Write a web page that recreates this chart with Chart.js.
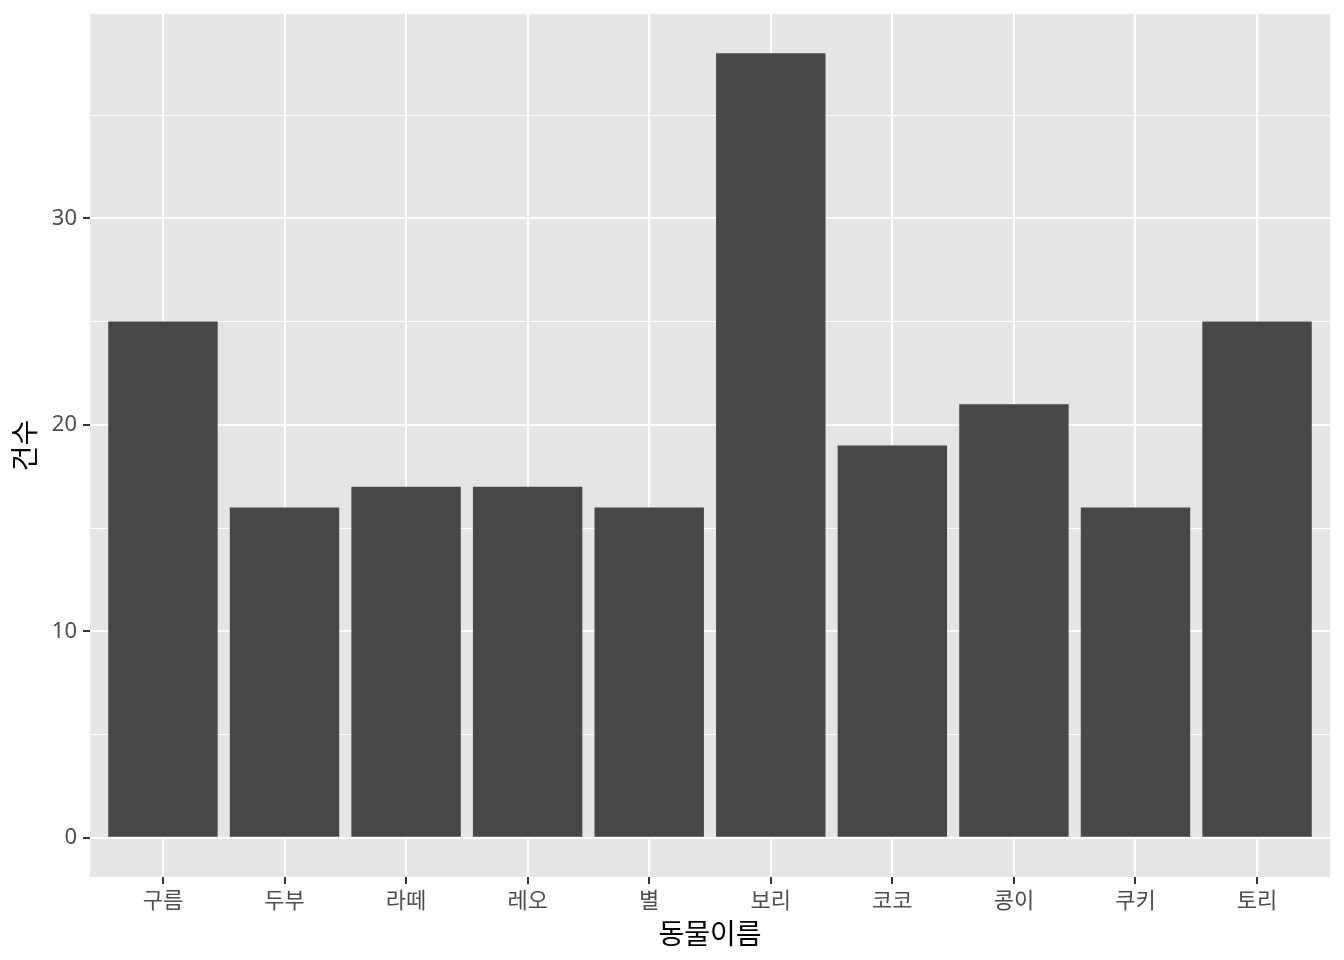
<!DOCTYPE html>
<html>
<head>
<meta charset="utf-8">
<script src="https://cdn.jsdelivr.net/npm/chart.js@4"></script>
<style>
html,body{margin:0;padding:0;background:#fff;}
#wrap{width:1344px;height:960px;}
</style>
</head>
<body>
<div id="wrap"><canvas id="c" width="1344" height="960"></canvas></div>
<script>
const categories = ['구름','두부','라떼','레오','별','보리','코코','콩이','쿠키','토리'];
const counts = [25,16,17,17,16,38,19,21,16,25];
const yMajorTicks = [0,10,20,30];
const yMinorTicks = [5,15,25,35];
const xTitle = '동물이름';
const yTitle = '건수';

const FONT = "'Noto Sans', 'Noto Sans CJK KR', sans-serif";
const yMax = Math.max(...counts);
const yPad = yMax * 0.05;
const nCat = categories.length;

const panelBg = {
  id: 'panelBg',
  beforeDraw(chart) {
    const a = chart.chartArea, ctx = chart.ctx;
    ctx.save();
    ctx.fillStyle = '#E5E5E5';
    ctx.fillRect(a.left, a.top, a.right - a.left, a.bottom - a.top);
    ctx.restore();
  }
};

const isMajorY = v => yMajorTicks.includes(v);

new Chart(document.getElementById('c'), {
  type: 'bar',
  data: {
    datasets: [{
      data: counts.map((v, i) => ({x: i + 1, y: v})),
      backgroundColor: '#474747',
      borderWidth: 0,
      barPercentage: 0.9,
      categoryPercentage: 1.0
    }]
  },
  plugins: [panelBg],
  options: {
    responsive: false,
    animation: false,
    devicePixelRatio: 1,
    layout: {padding: {top: 14, right: 14, bottom: 0, left: 0}},
    plugins: {legend: {display: false}, tooltip: {enabled: false}},
    scales: {
      x: {
        type: 'linear',
        offset: false,
        min: 0.4,
        max: nCat + 0.6,
        afterBuildTicks: s => { s.ticks = categories.map((c, i) => ({value: i + 1})); },
        afterFit: s => { s.height = 83; s.paddingLeft = 0; s.paddingRight = 0; },
        ticks: {
          autoSkip: false,
          maxRotation: 0,
          padding: 5,
          color: '#4D4D4D',
          font: {family: FONT, size: 22},
          callback: v => categories[Math.round(v) - 1]
        },
        grid: {
          offset: false,
          color: '#FFFFFF',
          lineWidth: 2,
          drawTicks: true,
          tickLength: 7,
          tickColor: '#333333',
          tickWidth: 2
        },
        border: {display: false},
        title: {
          display: true,
          text: xTitle,
          color: '#000000',
          font: {family: FONT, size: 28},
          padding: {top: 0, bottom: 7}
        }
      },
      y: {
        type: 'linear',
        min: -yPad,
        max: yMax + yPad,
        afterBuildTicks: s => {
          s.ticks = [...yMajorTicks, ...yMinorTicks].sort((a, b) => a - b).map(v => ({value: v}));
        },
        afterFit: s => { s.width = 90; s.paddingTop = 0; s.paddingBottom = 0; },
        ticks: {
          padding: 6,
          color: '#4D4D4D',
          font: {family: FONT, size: 22},
          callback: v => isMajorY(v) ? String(v) : ''
        },
        grid: {
          color: '#FFFFFF',
          lineWidth: c => (c.tick && isMajorY(c.tick.value)) ? 2 : 1,
          drawTicks: true,
          tickLength: 7,
          tickColor: c => (c.tick && isMajorY(c.tick.value)) ? '#333333' : 'rgba(0,0,0,0)',
          tickWidth: 2
        },
        border: {display: false},
        title: {
          display: true,
          text: yTitle,
          color: '#000000',
          font: {family: FONT, size: 28},
          padding: {top: 10, bottom: 0}
        }
      }
    }
  }
});
</script>
</body>
</html>
